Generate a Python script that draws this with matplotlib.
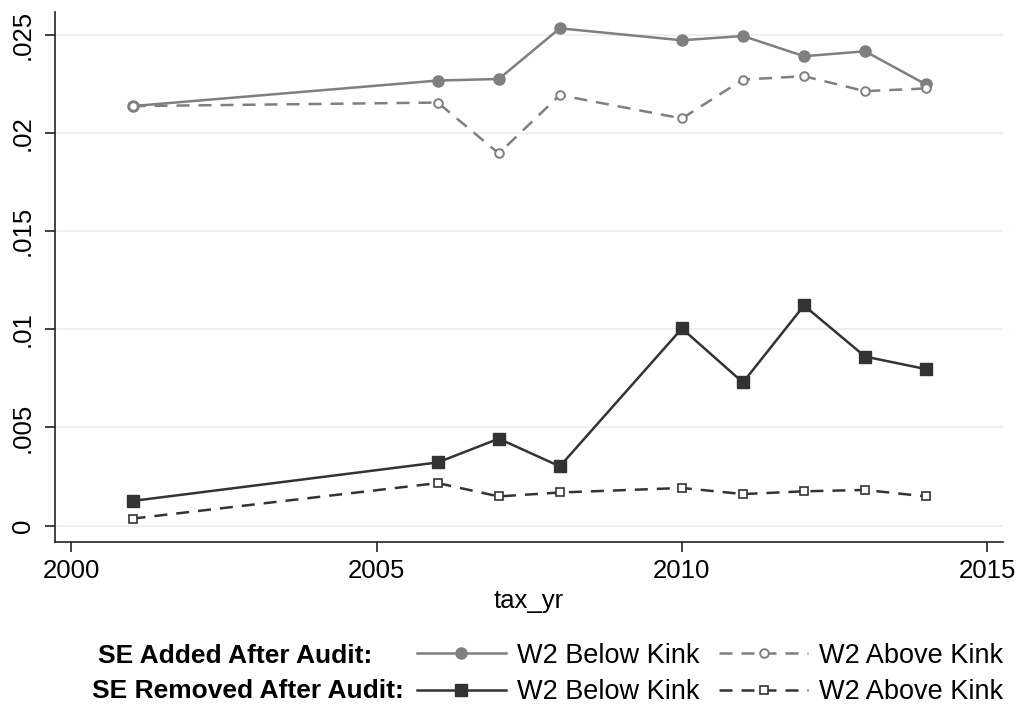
import matplotlib
matplotlib.use("Agg")
import matplotlib.pyplot as plt

plt.rcParams['font.family'] = ['Liberation Sans', 'DejaVu Sans']

years = [2001, 2006, 2007, 2008, 2010, 2011, 2012, 2013, 2014]
added_below = [0.02136, 0.02266, 0.02274, 0.02532, 0.02471, 0.02493, 0.02390, 0.02415, 0.02246]
added_above = [0.02136, 0.02154, 0.01895, 0.02192, 0.02073, 0.02271, 0.02288, 0.02212, 0.02226]
removed_below = [0.00126, 0.00322, 0.00443, 0.00302, 0.01004, 0.00729, 0.01121, 0.00861, 0.00797]
removed_above = [0.00036, 0.00217, 0.00149, 0.00169, 0.00192, 0.00161, 0.00175, 0.00182, 0.00149]

xticks = [2000, 2005, 2010, 2015]
yticks = [0, 0.005, 0.01, 0.015, 0.02, 0.025]
ytick_labels = ['0', '.005', '.01', '.015', '.02', '.025']
group_labels = ['SE Added After Audit:', 'SE Removed After Audit:']
series_labels = ['W2 Below Kink', 'W2 Above Kink']

W, H = 1033, 708
fig = plt.figure(figsize=(W / 100, H / 100), dpi=100)
ax = fig.add_axes([55 / W, (H - 542) / H, (1003 - 55) / W, (542 - 12) / H])

gray = '#7f7f7f'
dark = '#333333'
lw = 1.8
dash = (5.2, 3.6)

l1, = ax.plot(years, added_below, color=gray, lw=lw, marker='o', ms=8,
              mfc=gray, mec=gray, zorder=3)
l2, = ax.plot(years, added_above, color=gray, lw=lw, ls=(0, dash), marker='o', ms=6.2,
              mfc='white', mec=gray, mew=1.4, zorder=3)
l3, = ax.plot(years, removed_below, color=dark, lw=lw, marker='s', ms=8.2,
              mfc=dark, mec=dark, zorder=3)
l4, = ax.plot(years, removed_above, color=dark, lw=lw, ls=(0, dash), marker='s', ms=6.2,
              mfc='white', mec=dark, mew=1.2, zorder=3)

ax.set_xlim(1999.73, 2015.26)
ax.set_ylim(-0.00083, 0.02615)
ax.set_xticks(xticks)
ax.set_xticklabels([str(x) for x in xticks])
ax.set_yticks(yticks)
ax.set_yticklabels(ytick_labels, rotation=90, va='center')

for s in ['top', 'right']:
    ax.spines[s].set_visible(False)
for s in ['left', 'bottom']:
    ax.spines[s].set_color('#222222')
    ax.spines[s].set_linewidth(1.2)

ax.grid(axis='y', color='#eaf2f3', lw=1.5, zorder=0)
ax.set_axisbelow(True)
ax.tick_params(axis='both', length=7.5, width=1.2, color='#222222', labelsize=18.5,
               labelcolor='black')
ax.tick_params(axis='y', pad=7)
ax.tick_params(axis='x', pad=5)
ax.set_xlabel('tax_yr', fontsize=18.5, labelpad=4)

fs = 19.5
leg = fig.legend([l1, l3, l2, l4],
                 [series_labels[0], series_labels[0], series_labels[1], series_labels[1]],
                 ncol=2, loc='center left',
                 bbox_to_anchor=(417 / W, 1 - 674 / H),
                 frameon=False, fontsize=fs, handlelength=3.28, handletextpad=0.4,
                 columnspacing=0.74, labelspacing=0.38, borderpad=0, borderaxespad=0)

fig.text(98 / W, 1 - 656 / H, group_labels[0], fontsize=19, fontweight='bold',
         ha='left', va='center')
fig.text(92 / W, 1 - 691 / H, group_labels[1], fontsize=19, fontweight='bold',
         ha='left', va='center')

fig.savefig('out.png', dpi=100)
